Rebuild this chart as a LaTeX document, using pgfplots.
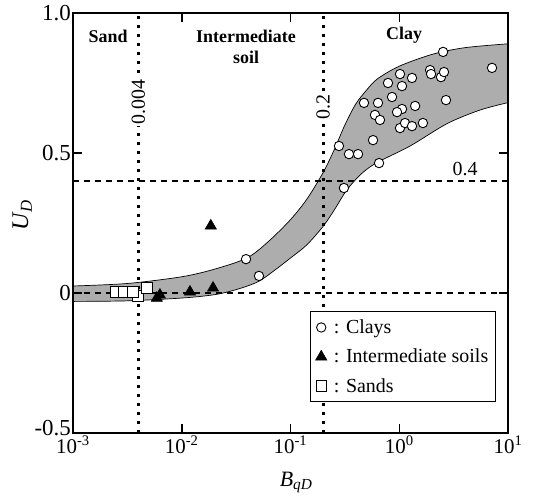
\documentclass[border=0pt]{standalone}
\usepackage{fontspec}
\setmainfont{Liberation Serif}
\usepackage{pgfplots}
\pgfplotsset{compat=1.18}
\usepgfplotslibrary{fillbetween}

\begin{document}
\begin{tikzpicture}
\begin{axis}[
  set layers, axis on top,
  scale only axis, width=435bp, height=420bp,
  xmode=log, xmin=1e-3, xmax=10, ymin=-0.5, ymax=1.0,
  xtick={1e-3,1e-2,1e-1,1,10},
  xticklabels={10\textsuperscript{-3},10\textsuperscript{-2},10\textsuperscript{-1},10\textsuperscript{0},10\textsuperscript{1}},
  ytick={-0.5,0,0.5,1.0},
  yticklabels={\raisebox{-2bp}[0pt][0pt]{-0.5},0,0.5,1.0},
  xminorticks=false, yminorticks=false,
  tick align=inside,
  major tick length=9bp,
  tick style={line width=1.5bp, black},
  axis line style={line width=2.4bp},
  xticklabel style={font=\fontsize{21}{24}\selectfont, yshift=-2bp, inner sep=1bp},
  yticklabel style={font=\fontsize{23}{26}\selectfont, xshift=-1bp, yshift=0bp, inner sep=1bp},
  xlabel={\textit{B}\textsubscript{\textit{qD}}},
  ylabel={\textit{U}\textsubscript{\textit{D}}},
  xlabel style={font=\fontsize{22}{24}\selectfont, at={(axis description cs:0.513,-0.117)}, anchor=center},
  ylabel style={font=\fontsize{24}{26}\selectfont, at={(axis description cs:-0.117,0.519)}, anchor=center},
  legend style={at={(axis description cs:0.972,0.290)}, anchor=north east,
    draw=black, line width=1.2bp, fill=white,
    font=\fontsize{20}{24}\selectfont, row sep=10bp,
    inner xsep=5bp, inner ysep=6bp, cells={anchor=west}},
]

% band of measured behaviour
\addplot[name path=up, forget plot, draw=black, line width=0.7bp, smooth] coordinates {
  (0.001,0.025) (0.003162,0.034) (0.01,0.058) (0.01995,0.085) (0.03981,0.125)
  (0.0631,0.185) (0.1,0.262) (0.1413,0.335) (0.1995,0.43) (0.2512,0.51)
  (0.3162,0.60) (0.3981,0.675) (0.5012,0.725) (0.631,0.765) (1,0.81)
  (1.995,0.852) (3.981,0.876) (10,0.89)};
\addplot[name path=lo, forget plot, draw=black, line width=0.7bp, smooth] coordinates {
  (0.001,-0.03) (0.003162,-0.028) (0.01,-0.018) (0.01995,-0.006) (0.03162,0.012)
  (0.05012,0.04) (0.07079,0.08) (0.1,0.125) (0.1413,0.172) (0.1995,0.238)
  (0.2512,0.295) (0.3162,0.358) (0.3802,0.397) (0.4677,0.432) (0.631,0.467)
  (1.259,0.525) (2.754,0.605) (5.495,0.653) (10,0.68)};
\addplot[forget plot, fill=black!32, draw=none] fill between[of=up and lo];

% reference lines
\addplot[forget plot, line width=1.8bp, dash pattern=on 6bp off 5bp] coordinates {(0.001,0) (10,0)};
\addplot[forget plot, line width=1.8bp, dash pattern=on 6bp off 5bp] coordinates {(0.001,0.4) (10,0.4)};
\addplot[forget plot, line width=2.6bp, dash pattern=on 2.6bp off 6.4bp] coordinates {(0.004,-0.5) (0.004,1.0)};
\addplot[forget plot, line width=2.6bp, dash pattern=on 2.6bp off 6.4bp] coordinates {(0.2,-0.5) (0.2,1.0)};

% clays
\addplot[only marks, mark=*, mark size=4.7bp, mark options={fill=white, draw=black, line width=0.9bp}] coordinates {
  (0.0390,0.121) (0.0513,0.061) (0.310,0.375) (0.279,0.525) (0.345,0.496)
  (0.418,0.496) (0.652,0.464) (0.574,0.546) (0.598,0.636) (0.665,0.618)
  (0.474,0.679) (0.638,0.679) (0.788,0.750) (0.858,0.700) (1.016,0.782)
  (1.06,0.739) (1.31,0.768) (1.06,0.657) (0.954,0.646) (1.40,0.668)
  (1.016,0.589) (1.13,0.607) (1.31,0.596) (1.65,0.607) (1.92,0.796)
  (1.96,0.782) (2.42,0.771) (2.58,0.789) (2.53,0.861) (2.69,0.689)
  (7.13,0.804)};
\addlegendentry{~: Clays}

% intermediate soils
\addplot[only marks, mark=triangle*, mark size=6.5bp, mark options={fill=black, draw=black, line width=0.5bp}] coordinates {
  (0.0185,0.24) (0.0059,-0.018) (0.0063,-0.007) (0.0119,0.004) (0.0194,0.018)};
\addlegendentry{~: Intermediate soils}

% sands
\addplot[only marks, mark=square*, mark size=5.2bp, mark options={fill=white, draw=black, line width=0.9bp}] coordinates {
  (0.00396,-0.01) (0.00248,0.004) (0.00294,0.004) (0.00356,0.004) (0.00479,0.018)};
\addlegendentry{~: Sands}

% region names and line values
\node[font=\bfseries\fontsize{18}{21}\selectfont] at (axis cs:0.0021,0.918) {Sand};
\node[font=\bfseries\fontsize{18}{21}\selectfont, align=center] at (axis cs:0.039,0.879) {Intermediate\\soil};
\node[font=\bfseries\fontsize{18}{21}\selectfont] at (axis cs:1.107,0.921) {Clay};
\node[font=\fontsize{20}{22}\selectfont, rotate=90, fill=white, inner sep=1.5bp] at (axis cs:0.004,0.682) {0.004};
\node[font=\fontsize{20}{22}\selectfont, rotate=90, fill=white, inner sep=1.5bp] at (axis cs:0.2,0.664) {0.2};
\node[font=\fontsize{20}{22}\selectfont] at (axis cs:4.03,0.443) {0.4};
\end{axis}
\pgfresetboundingbox
\path[use as bounding box] ([xshift=-73bp,yshift=-65bp]current axis.south west) rectangle ([xshift=26bp,yshift=13bp]current axis.north east);
\end{tikzpicture}
\end{document}
